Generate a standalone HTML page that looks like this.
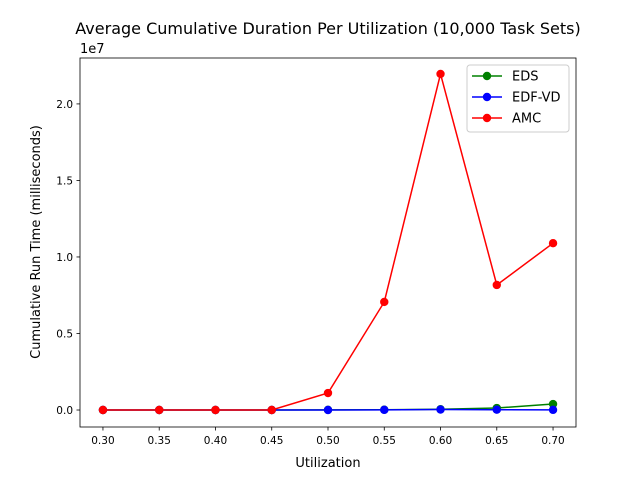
<!DOCTYPE html>
<html><head><meta charset="utf-8"><style>
body{margin:0;background:#fff}
svg text{font-family:"DejaVu Sans","Liberation Sans",sans-serif;fill:#000}
</style></head><body>
<svg id="chart" width="640" height="480" xmlns="http://www.w3.org/2000/svg">
<rect width="640" height="480" fill="#fff"/>
<text x="328" y="34" font-size="16" text-anchor="middle">Average Cumulative Duration Per Utilization (10,000 Task Sets)</text>
<g id="axes"></g>
<text x="80" y="53" font-size="13">1e7</text>
<text x="328" y="467" font-size="13" text-anchor="middle">Utilization</text>
<text transform="translate(40,242) rotate(-90)" font-size="13" text-anchor="middle">Cumulative Run Time (milliseconds)</text>
<g id="plot"></g>
<g id="legend"></g>
</svg>
<script>
const categories=[0.30,0.35,0.40,0.45,0.50,0.55,0.60,0.65,0.70];
const edsValues=[0,0,0,0,0.01,0.02,0.05,0.13,0.39];
const edfvdValues=[0,0,0,0,0,0.01,0.03,0.02,0.01];
const amcValues=[0,0,0,0,1.11,7.06,21.96,8.17,10.9];
const xTicks=[0.30,0.35,0.40,0.45,0.50,0.55,0.60,0.65,0.70];
const yTicks=[0,0.5,1.0,1.5,2.0];
const seriesNames=["EDS","EDF-VD","AMC"];
const L=80,R=576,T=58,B=427;
const xMin=0.2796,xMax=0.7204,yMin=-1.11,yMax=23.0;
const sx=v=>L+(v-xMin)/(xMax-xMin)*(R-L);
const sy=v=>B-(v-yMin)/(yMax-yMin)*(B-T);
const NS="http://www.w3.org/2000/svg";
function mk(tag,attrs,parent){const e=document.createElementNS(NS,tag);for(const k in attrs)e.setAttribute(k,attrs[k]);parent.appendChild(e);return e;}
const axes=document.getElementById('axes');
const frame=mk('rect',{x:L,y:T,width:R-L,height:B-T,fill:'none',stroke:'#000','stroke-width':0.8},axes);


xTicks.forEach(t=>{const x=sx(t);
const l=mk('line',{x1:x,x2:x,y1:B,y2:B+3.5,stroke:'#000','stroke-width':0.8},axes);


const tx=mk('text',{x:x,y:B+17,'font-size':10.5,'text-anchor':'middle'},axes);tx.textContent=t.toFixed(2);

});
yTicks.forEach(t=>{const y=sy(t*10);
const l=mk('line',{x1:L-3.5,x2:L,y1:y,y2:y,stroke:'#000','stroke-width':0.8},axes);


const tx=mk('text',{x:L-7,y:y+4,'font-size':10.5,'text-anchor':'end'},axes);tx.textContent=t.toFixed(1);

});
const plot=document.getElementById('plot');
const series=[[edsValues,'green'],[edfvdValues,'blue'],[amcValues,'red']];
series.forEach(([vals,c],i)=>{
const g=mk('g',{},plot);


const pts=categories.map((x,j)=>sx(x)+','+sy(vals[j])).join(' ');
const pl=mk('polyline',{points:pts,fill:'none',stroke:c,'stroke-width':1.5},g);


categories.forEach((x,j)=>{const p=mk('circle',{cx:sx(x),cy:sy(vals[j]),r:4.2,fill:c},g);

});
});
const lg=document.getElementById('legend');
const box=mk('rect',{x:467,y:65,width:102,height:67,rx:3,fill:'#fff','fill-opacity':0.8,stroke:'#ccc'},lg);


series.forEach(([v,c],i)=>{const y=76+i*21;
const g=mk('g',{},lg);


mk('line',{x1:472,x2:502,y1:y,y2:y,stroke:c,'stroke-width':1.5},g);
mk('circle',{cx:487,cy:y,r:4.2,fill:c},g);
const t=mk('text',{x:512,y:y+4.5,'font-size':13},g);t.textContent=seriesNames[i];});
</script>
</body></html>
